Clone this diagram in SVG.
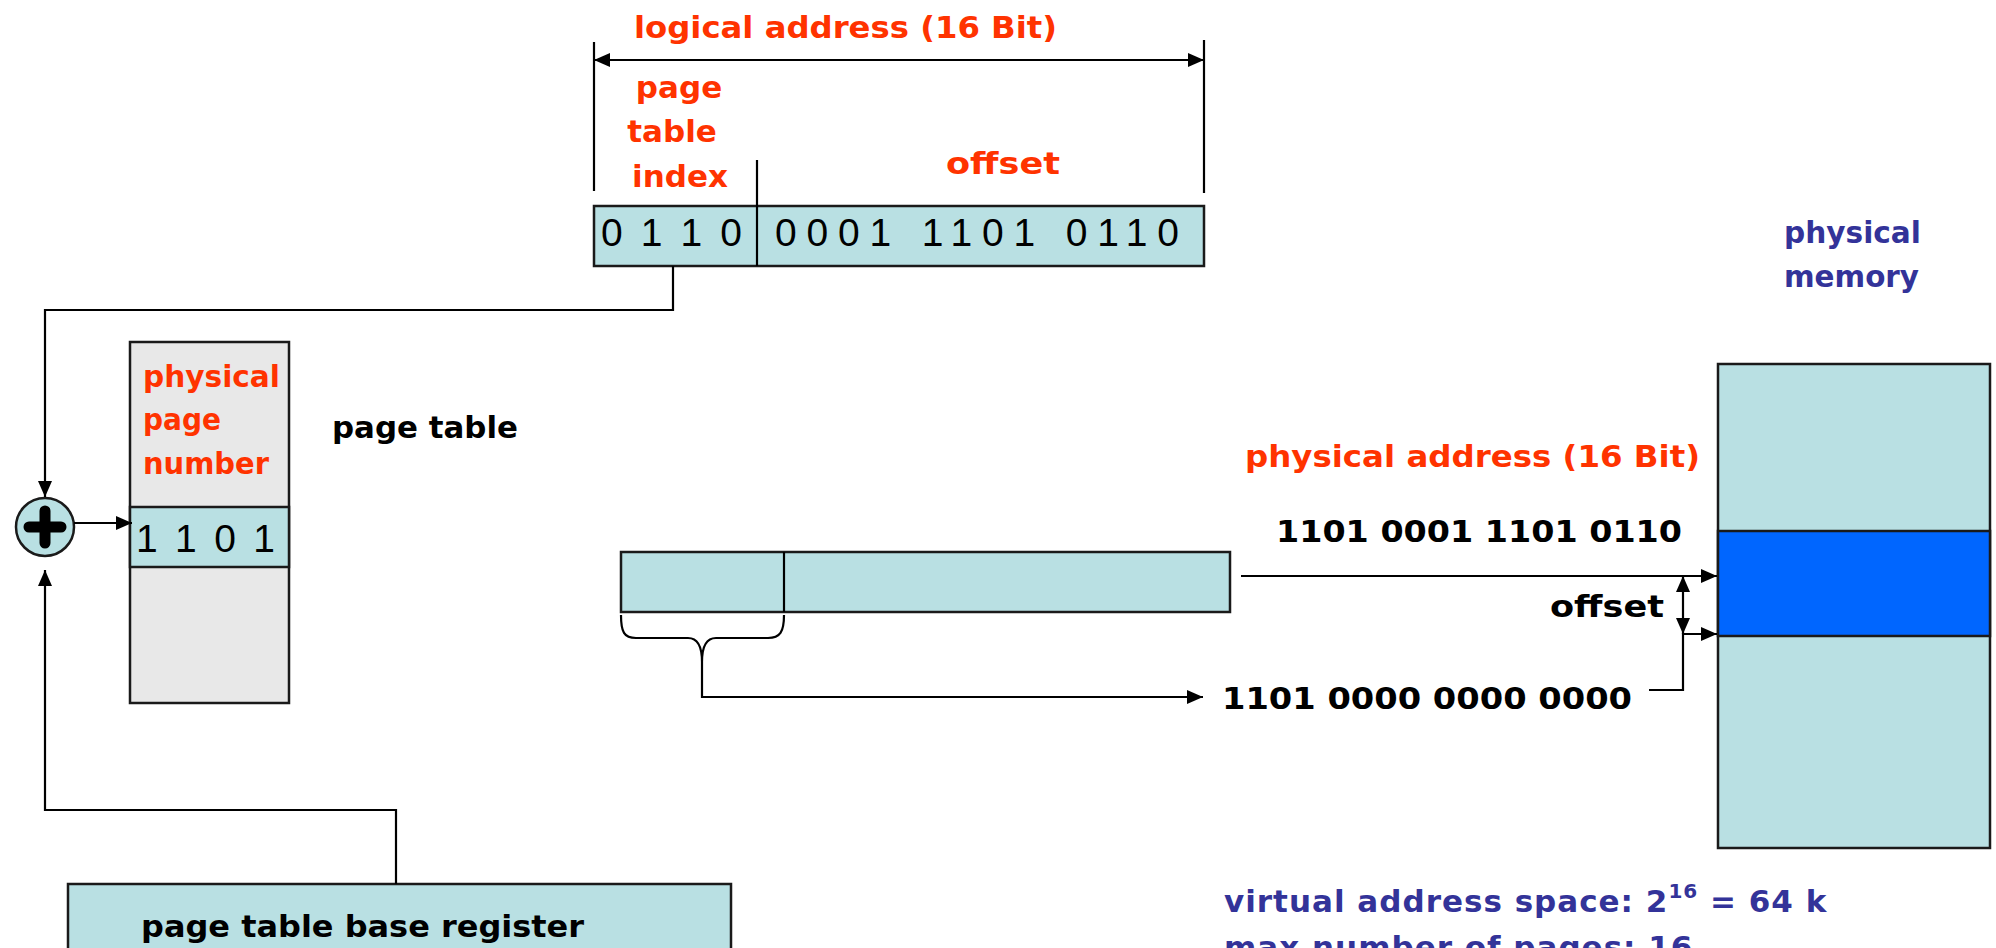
<svg xmlns="http://www.w3.org/2000/svg" width="1996" height="948" viewBox="0 0 1996 948">
<style>
.lbl{font-family:"DejaVu Sans","Liberation Sans",sans-serif;font-weight:bold;font-size:31px}
.red{fill:#ff3300}
.blk{fill:#000}
.blu{fill:#333399}
.bits{font-family:"Liberation Sans",Arial,sans-serif;font-size:39px;fill:#000}
.box{fill:#b9e0e3;stroke:#1a1a1a;stroke-width:2.5}
.ln{fill:none;stroke:#000;stroke-width:2.2}
</style>
<defs>
<marker id="ah" viewBox="0 0 16 14" refX="16" refY="7" markerWidth="16" markerHeight="14" orient="auto-start-reverse" markerUnits="userSpaceOnUse">
<path d="M0,0 L16,7 L0,14 z" fill="#000"/>
</marker>
</defs>
<rect width="1996" height="948" fill="#fff"/>

<g id="logical-address">
<text class="lbl red" x="634" y="38" font-size="32" textLength="423" lengthAdjust="spacingAndGlyphs">logical address (16 Bit)</text>
<text class="lbl red" x="679" y="98" text-anchor="middle">page</text>
<text class="lbl red" x="672" y="142" text-anchor="middle">table</text>
<text class="lbl red" x="680" y="187" text-anchor="middle">index</text>
<text class="lbl red" x="946" y="174" textLength="114" lengthAdjust="spacingAndGlyphs">offset</text>
<rect class="box" x="594" y="206" width="610" height="60"/>
<line class="ln" x1="757" y1="160" x2="757" y2="266"/>
<text class="bits" x="601" y="246" textLength="141" lengthAdjust="spacing">0 1 1 0</text>
<text class="bits" x="775" y="246" textLength="404" lengthAdjust="spacing">0001 1101 0110</text>
</g>

<g id="adder">
<circle cx="45" cy="527" r="29" fill="#b9e0e3" stroke="#1a1a1a" stroke-width="2.5"/>
<path d="M29,527 H61 M45,511 V543" stroke="#000" stroke-width="11" stroke-linecap="round"/>
</g>

<g id="page-table">
<rect x="130" y="342" width="159" height="361" fill="#e8e8e8" stroke="#1a1a1a" stroke-width="2.5"/>
<rect class="box" x="130" y="507" width="159" height="60"/>
<text class="lbl red" x="143" y="387" textLength="137" lengthAdjust="spacingAndGlyphs">physical</text>
<text class="lbl red" x="143" y="430" textLength="78" lengthAdjust="spacingAndGlyphs">page</text>
<text class="lbl red" x="143" y="474" textLength="126" lengthAdjust="spacingAndGlyphs">number</text>
<text class="bits" x="136" y="552" textLength="139" lengthAdjust="spacing">1 1 0 1</text>
<text class="lbl blk" x="332" y="438" textLength="186" lengthAdjust="spacingAndGlyphs">page table</text>
</g>

<g id="ptbr">
<rect class="box" x="68" y="884" width="663" height="90"/>
<text class="lbl blk" x="141" y="937" textLength="443" lengthAdjust="spacingAndGlyphs">page table base register</text>
</g>

<g id="physical-address">
<text class="lbl red" x="1245" y="467" font-size="32" textLength="455" lengthAdjust="spacingAndGlyphs">physical address (16 Bit)</text>
<text class="lbl blk" x="1276" y="542" font-size="33" textLength="406" lengthAdjust="spacingAndGlyphs">1101 0001 1101 0110</text>
<rect class="box" x="621" y="552" width="609" height="60"/>
<line class="ln" x1="784" y1="552" x2="784" y2="612"/>
<text class="lbl blk" x="1550" y="617" textLength="114" lengthAdjust="spacingAndGlyphs">offset</text>
<text class="lbl blk" x="1222" y="709" font-size="33" textLength="410" lengthAdjust="spacingAndGlyphs">1101 0000 0000 0000</text>
</g>

<g id="physical-memory">
<text class="lbl blu" x="1784" y="243" textLength="137" lengthAdjust="spacingAndGlyphs">physical</text>
<text class="lbl blu" x="1784" y="287" textLength="135" lengthAdjust="spacingAndGlyphs">memory</text>
<rect class="box" x="1718" y="364" width="272" height="484"/>
<rect x="1718" y="531" width="272" height="105" fill="#0066ff" stroke="#1a1a1a" stroke-width="2.5"/>
</g>

<g id="notes">
<text class="lbl blu" x="1224" y="912" font-size="32.5" letter-spacing="1">virtual address space: 2<tspan font-size="20" dy="-14">16</tspan><tspan dy="14"> = 64 k</tspan></text>
<text class="lbl blu" x="1224" y="958" font-size="32.5" letter-spacing="1">max number of pages: 16</text>
</g>

<g id="connectors">
<path class="ln" d="M594,60 H1204" marker-start="url(#ah)" marker-end="url(#ah)"/>
<path class="ln" d="M594,42 V191 M1204,40 V193"/>
<path class="ln" d="M673,266 V310 H45 V497" marker-end="url(#ah)"/>
<path class="ln" d="M396,884 V810 H45 V570" marker-end="url(#ah)"/>
<path class="ln" d="M74,523 H132" marker-end="url(#ah)"/>
<path class="ln" d="M621,615 C621,632 624,638 636,638 H688 C698,638 702,646 702,662 C702,646 706,638 716,638 H768 C780,638 784,632 784,615"/>
<path class="ln" d="M702,662 V697 H1203" marker-end="url(#ah)"/>
<path class="ln" d="M1241,576 H1717" marker-end="url(#ah)"/>
<path class="ln" d="M1683,576 V634" marker-start="url(#ah)" marker-end="url(#ah)"/>
<path class="ln" d="M1649,690 H1683 V634 H1717" marker-end="url(#ah)"/>
</g>
</svg>
